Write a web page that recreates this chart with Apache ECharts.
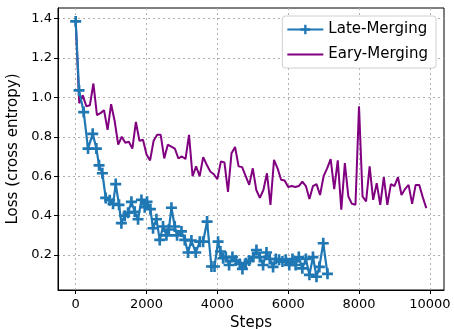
<!DOCTYPE html>
<html>
<head>
<meta charset="utf-8">
<script src="https://cdn.jsdelivr.net/npm/echarts@6/dist/echarts.min.js"></script>
<style>
  html, body { margin: 0; padding: 0; background: #fff; }
  #chart { width: 454px; height: 329px; }
</style>
</head>
<body>
<div id="chart"></div>
<script>
// Late-Merging: steps + loss
var lateSteps = [0, 95, 226, 348, 480, 584, 659, 753, 847, 960, 1054, 1130, 1223, 1290, 1384, 1478, 1573, 1667, 1760, 1856,
  1949, 2014, 2110, 2184, 2280, 2373, 2466, 2562, 2630, 2703, 2797, 2862, 2986, 3079, 3172, 3267, 3390, 3503, 3597, 3710,
  3833, 3920, 4020, 4087, 4162, 4240, 4331, 4426, 4520, 4633, 4708, 4802, 4896, 5009, 5104, 5198, 5291, 5387, 5480, 5573,
  5650, 5743, 5838, 5932, 6030, 6120, 6210, 6300, 6400, 6500, 6600, 6700, 6800, 6880, 6990, 7110];
var lateLoss = [1.385, 1.035, 0.925, 0.74, 0.815, 0.74, 0.655, 0.615, 0.49, 0.478, 0.46, 0.56, 0.455, 0.362, 0.40, 0.415, 0.47, 0.42, 0.382, 0.48,
  0.443, 0.47, 0.433, 0.336, 0.382, 0.277, 0.345, 0.30, 0.33, 0.44, 0.345, 0.30, 0.32, 0.277, 0.213, 0.274, 0.213, 0.268, 0.268, 0.37,
  0.142, 0.142, 0.268, 0.218, 0.184, 0.19, 0.15, 0.19, 0.172, 0.155, 0.13, 0.159, 0.172, 0.19, 0.226, 0.19, 0.15, 0.213, 0.18, 0.14,
  0.18, 0.176, 0.167, 0.176, 0.15, 0.18, 0.15, 0.19, 0.133, 0.18, 0.10, 0.19, 0.09, 0.14, 0.26, 0.105];

// Eary-Merging: one point every 100 steps
var earySteps = [0, 100, 200, 300, 400, 500, 600, 700, 800, 900, 1000, 1100, 1200, 1300, 1400, 1500, 1600, 1700, 1800, 1900,
  2000, 2100, 2200, 2300, 2400, 2500, 2600, 2700, 2800, 2900, 3000, 3100, 3200, 3300, 3400, 3500, 3600, 3700, 3800, 3900,
  4000, 4100, 4200, 4300, 4400, 4500, 4600, 4700, 4800, 4900, 5000, 5100, 5200, 5300, 5400, 5500, 5600, 5700, 5800, 5900,
  6000, 6100, 6200, 6300, 6400, 6500, 6600, 6700, 6800, 6900, 7000, 7100, 7200, 7300, 7400, 7500, 7600, 7700, 7800, 7900,
  8000, 8100, 8200, 8300, 8400, 8500, 8600, 8700, 8800, 8900, 9000, 9100, 9200, 9300, 9400, 9500, 9600, 9700, 9800, 9900];
var earyLoss = [1.385, 0.97, 1.01, 0.955, 0.96, 1.07, 0.91, 0.92, 0.935, 0.835, 0.965, 0.88, 0.76, 0.80, 0.77, 0.775, 0.74, 0.875, 0.78, 0.785,
  0.71, 0.68, 0.78, 0.81, 0.81, 0.69, 0.76, 0.75, 0.74, 0.69, 0.70, 0.687, 0.81, 0.60, 0.65, 0.60, 0.697, 0.658, 0.624, 0.61,
  0.585, 0.675, 0.67, 0.52, 0.717, 0.748, 0.65, 0.646, 0.60, 0.556, 0.64, 0.53, 0.49, 0.53, 0.615, 0.455, 0.683, 0.64, 0.582, 0.578,
  0.545, 0.55, 0.545, 0.55, 0.573, 0.55, 0.484, 0.55, 0.56, 0.505, 0.60, 0.64, 0.687, 0.535, 0.68, 0.43, 0.666, 0.497, 0.46, 0.455,
  0.954, 0.497, 0.472, 0.65, 0.48, 0.565, 0.455, 0.595, 0.455, 0.56, 0.55, 0.595, 0.505, 0.535, 0.556, 0.46, 0.556, 0.556, 0.494, 0.438];

var xTicks = [0, 2000, 4000, 6000, 8000, 10000];
var yTicks = [0.2, 0.4, 0.6, 0.8, 1.0, 1.2, 1.4];

var font = 'DejaVu Sans';
var plusSymbol = 'path://M3.8,0H6.2V3.8H10V6.2H6.2V10H3.8V6.2H0V3.8H3.8Z';

var chart = echarts.init(document.getElementById('chart'), null, {renderer: 'canvas'});

var gridLine = {show: true, lineStyle: {color: '#b0b0b0', width: 1, type: [2, 3]}};

var option = {
    animation: false,
    backgroundColor: '#fff',
    grid: {
        left: 58, right: 10, top: 8, bottom: 39,
        outerBoundsMode: 'none',
        containLabel: false,
        show: true, borderColor: '#000', borderWidth: 1
    },
    legend: {
        orient: 'vertical',
        right: 18, top: 16,
        backgroundColor: '#fff',
        borderColor: '#d0d0d0', borderWidth: 1, borderRadius: 3,
        padding: [6, 8, 6, 4],
        itemWidth: 36, itemHeight: 12, itemGap: 10,
        textStyle: {fontFamily: font, fontSize: 15, color: '#000'},
        data: [
            {name: 'Late-Merging'},
            {name: 'Eary-Merging', itemStyle: {opacity: 0}}
        ]
    },
    xAxis: {
        type: 'value',
        min: -500, max: 10400,
        splitNumber: 5,
        name: 'Steps',
        nameLocation: 'middle',
        nameGap: 24,
        nameTextStyle: {fontFamily: font, fontSize: 15, color: '#000'},
        axisLine: {show: true, onZero: false, lineStyle: {color: '#000', width: 1}},
        axisTick: {show: true, length: 4, lineStyle: {color: '#000'}, customValues: xTicks},
        axisLabel: {
            fontFamily: font, fontSize: 13, color: '#000', margin: 8,
            customValues: xTicks,
            formatter: function (v) { return String(v); }
        },
        splitLine: gridLine
    },
    yAxis: {
        type: 'value',
        min: 0.023, max: 1.453,
        splitNumber: 7,
        name: 'Loss (cross entropy)',
        nameLocation: 'middle',
        nameGap: 32,
        nameTextStyle: {fontFamily: font, fontSize: 15, color: '#000'},
        axisLine: {show: true, onZero: false, lineStyle: {color: '#000', width: 1}},
        axisTick: {show: true, length: 4, lineStyle: {color: '#000'}, customValues: yTicks},
        axisLabel: {
            fontFamily: font, fontSize: 13, color: '#000', margin: 6,
            customValues: yTicks,
            formatter: function (v) { return v.toFixed(1); }
        },
        splitLine: gridLine
    },
    series: [
        {
            name: 'Late-Merging',
            type: 'line',
            data: lateSteps.map(function (s, i) { return [s, lateLoss[i]]; }),
            symbol: plusSymbol,
            symbolSize: 11,
            showAllSymbol: true,
            color: '#1f77b4',
            lineStyle: {width: 2.2, color: '#1f77b4'},
            itemStyle: {color: '#1f77b4'},
            z: 3
        },
        {
            name: 'Eary-Merging',
            type: 'line',
            data: earySteps.map(function (s, i) { return [s, earyLoss[i]]; }),
            symbol: 'none',
            color: '#800080',
            lineStyle: {width: 2, color: '#800080'},
            z: 2
        }
    ]
};

chart.setOption(option);
</script>
</body>
</html>
